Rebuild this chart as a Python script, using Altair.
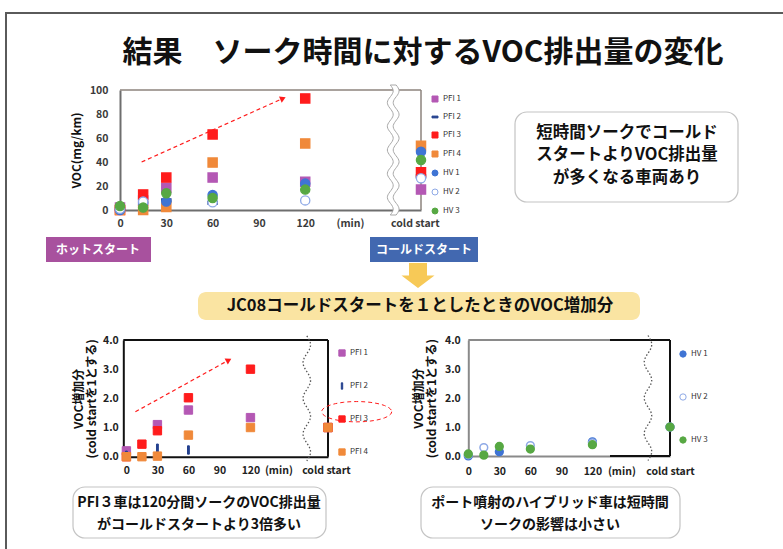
import math
import altair as alt
import pandas as pd

W, H = 783, 549
JP = "Noto Sans CJK JP"

# ---------------- data ----------------
soak_labels = ["0", "15", "30", "60", "120", "cold start"]

top_series = ["PFI 1", "PFI 2", "PFI 3", "PFI 4", "HV 1", "HV 2", "HV 3"]
top_pfi1 = [2.0, 8.0, 18.6, 27.0, 23.6, 17.0]
top_pfi2 = [1.0, None, 8.0, 6.0, None, 28.0]
top_pfi3 = [0.0, 13.0, 27.0, 63.0, 93.0, 31.4]
top_pfi4 = [0.0, 0.0, 2.5, 39.5, 55.5, 53.6]
top_hv1 = [0.0, 6.0, 7.0, 12.5, 22.0, 48.6]
top_hv2 = [1.0, 7.0, None, 6.5, 8.0, 26.4]
top_hv3 = [3.3, 2.0, 14.0, 10.0, 17.0, 41.7]

pfi_series = ["PFI 1", "PFI 2", "PFI 3", "PFI 4"]
rel_pfi1 = [0.2, None, 1.1, 1.6, 1.34, 1.0]
rel_pfi2 = [0.05, None, 0.29, 0.23, None, 1.0]
rel_pfi3 = [0.0, 0.43, 0.89, 2.02, 3.0, 1.0]
rel_pfi4 = [0.0, 0.0, 0.02, 0.74, 1.0, 1.0]

hv_series = ["HV 1", "HV 2", "HV 3"]
rel_hv1 = [0.0, None, 0.15, None, 0.49, 1.0]
rel_hv2 = [0.04, 0.29, None, 0.36, 0.45, 1.0]
rel_hv3 = [0.07, 0.03, 0.33, 0.24, 0.39, 1.0]

# ---------------- styles ----------------
PURPLE, NAVY, RED, ORANGE = "#b458b4", "#23408e", "#ff1c1c", "#f0893a"
BLUE, LBLUE, GREEN = "#3f74d4", "#8ea9e6", "#57a843"
DASH_H = "M-1,-0.3L1,-0.3L1,0.3L-1,0.3Z"
DASH_V = "M-0.22,-1L0.22,-1L0.22,1L-0.22,1Z"

COLD_POS = 195.0  # the cold start column sits at the right edge of each panel


def soak_x(label):
    return COLD_POS if label == "cold start" else float(label)


def long_table(series, columns):
    rows = []
    for name, vals in zip(series, columns):
        for lab, v in zip(soak_labels, vals):
            if v is not None:
                rows.append({"series": name, "soak": lab, "x": soak_x(lab), "y": v})
    return pd.DataFrame(rows)


def wave_path(amp, periods, gap=0.0, n=90):
    pts = []
    for i in range(n + 1):
        t = -1 + 2 * i / n
        pts.append((amp * math.sin(math.pi * periods * (t + 1)), t))
    if gap == 0:
        return "M" + "L".join(f"{x:.3f},{y:.3f}" for x, y in pts)
    left = [(x - gap / 2, y) for x, y in pts]
    right = [(x + gap / 2, y) for x, y in reversed(pts)]
    return "M" + "L".join(f"{x:.3f},{y:.3f}" for x, y in left + right) + "Z"


def panel(df, series, fills, strokes, shapes, msize, mstroke,
          xdom, xr, ydom, yr, yvals, yfmt, ytitle, ytitle_size, ytitle_pad,
          xlab_pad, ylab_pad, axis_color, axis_width, label_color,
          min_at, cold_at, legend, frames, brk, arrow=None):
    xs = alt.Scale(domain=xdom, range=xr, nice=False, zero=False)
    ys = alt.Scale(domain=ydom, range=yr, nice=False, zero=False)
    xax = alt.Axis(
        orient="bottom", offset=yr[0] - H, values=[0, 30, 60, 90, 120, min_at, cold_at],
        labelExpr=f"datum.value == {min_at} ? '(min)' : datum.value == {cold_at} ? 'cold start' : datum.label",
        ticks=False, grid=False, domainColor=axis_color, domainWidth=axis_width,
        labelFont=JP, labelFontSize=10.5, labelFontWeight="bold", labelColor=label_color,
        labelPadding=xlab_pad, labelFlush=False, labelOverlap=False, title=None,
    )
    yax = alt.Axis(
        orient="left", offset=-xr[0], values=yvals, format=yfmt,
        ticks=False, grid=False, domainColor=axis_color, domainWidth=axis_width,
        labelFont=JP, labelFontSize=10.5, labelFontWeight="bold", labelColor=label_color,
        labelPadding=ylab_pad, labelFlush=False, labelOverlap=False,
        title=ytitle, titleFont=JP, titleFontSize=ytitle_size, titleFontWeight="bold",
        titleColor="#111111", titlePadding=ytitle_pad, titleLineHeight=ytitle_size + 1,
    )

    def X(f):
        return alt.X(f"{f}:Q", scale=xs, axis=xax)

    def Y(f):
        return alt.Y(f"{f}:Q", scale=ys, axis=yax)

    layers = []
    for color, width, segs in frames:
        seg_df = pd.DataFrame(segs, columns=["x", "y", "x2", "y2"])
        layers.append(
            alt.Chart(seg_df).mark_rule(color=color, strokeWidth=width).encode(
                x=X("x"), y=Y("y"), x2="x2:Q", y2="y2:Q"
            )
        )
    bx, by, bsize, bpath, bfill, bstroke, bdash = brk
    brk_df = pd.DataFrame({"x": [bx], "y": [by]})
    if bfill:
        bmark = alt.Chart(brk_df).mark_point(
            shape=bpath, size=bsize, filled=True, fill=bfill, stroke=bstroke,
            strokeWidth=1, opacity=1)
    else:
        bmark = alt.Chart(brk_df).mark_point(
            shape=bpath, size=bsize, filled=False, color=bstroke, stroke=bstroke,
            strokeWidth=1.3, strokeDash=bdash, opacity=1)
    layers.append(bmark.encode(x=X("x"), y=Y("y")))

    if arrow is not None:
        (ax0, ay0), (ax1, ay1) = arrow
        a_df = pd.DataFrame({"x": [ax0, ax1], "y": [ay0, ay1]})
        layers.append(
            alt.Chart(a_df).mark_line(color=RED, strokeDash=[4, 3], strokeWidth=1.2).encode(
                x=X("x"), y=Y("y")
            )
        )
        px0 = xr[0] + (ax0 - xdom[0]) / (xdom[1] - xdom[0]) * (xr[1] - xr[0])
        px1 = xr[0] + (ax1 - xdom[0]) / (xdom[1] - xdom[0]) * (xr[1] - xr[0])
        py0 = yr[0] + (ay0 - ydom[0]) / (ydom[1] - ydom[0]) * (yr[1] - yr[0])
        py1 = yr[0] + (ay1 - ydom[0]) / (ydom[1] - ydom[0]) * (yr[1] - yr[0])
        ang = math.degrees(math.atan2(py1 - py0, px1 - px0)) % 360
        h_df = pd.DataFrame({"x": [ax1], "y": [ay1]})
        layers.append(
            alt.Chart(h_df).mark_point(shape="triangle-right", filled=True, color=RED,
                                       size=45, angle=ang, opacity=1).encode(x=X("x"), y=Y("y"))
        )

    layers.append(
        alt.Chart(df).mark_point(filled=True, opacity=1, strokeWidth=mstroke, size=msize).encode(
            x=X("x"), y=Y("y"),
            fill=alt.Fill("series:N", scale=alt.Scale(domain=series, range=fills), legend=legend),
            stroke=alt.Stroke("series:N", scale=alt.Scale(domain=series, range=strokes), legend=legend),
            shape=alt.Shape("series:N", scale=alt.Scale(domain=series, range=shapes), legend=legend),
        )
    )
    return alt.layer(*layers)


def legend(x, y, row_pad, sym):
    return alt.Legend(orient="none", legendX=x, legendY=y, title=None, direction="vertical",
                      symbolSize=sym, symbolStrokeWidth=1, labelFont=JP, labelFontSize=8,
                      labelColor="#333333", rowPadding=row_pad, padding=0, labelOffset=4)


# ---------------- top panel: VOC (mg/km) ----------------
top_df = long_table(top_series, [top_pfi1, top_pfi2, top_pfi3, top_pfi4, top_hv1, top_hv2, top_hv3])
top = panel(
    top_df, top_series,
    [PURPLE, NAVY, RED, ORANGE, BLUE, "#ffffff", GREEN],
    [PURPLE, NAVY, RED, ORANGE, BLUE, LBLUE, GREEN],
    ["square", DASH_H, "square", "square", "circle", "circle", "circle"],
    85, 1.3,
    [0, COLD_POS], [120, 421], [0, 100], [210, 90],
    [0, 20, 40, 60, 80, 100], "d", "VOC(mg/km)", 12, 6,
    8, 12, "#6e6e6e", 2, "#3a3a3a", 149, 191,
    legend(431, 95, 9, 36),
    [("#8c837d", 1.5, [(0, 100, COLD_POS, 100), (COLD_POS, 0, COLD_POS, 100)])],
    (177, 50, 16900, wave_path(0.045, 5.5, gap=0.09), "#ffffff", "#a8a8a8", None),
    arrow=((14, 40), (105.6, 93)),
)

# ---------------- bottom-left panel: PFI relative ----------------
bl_df = long_table(pfi_series, [rel_pfi1, rel_pfi2, rel_pfi3, rel_pfi4])
bl = panel(
    bl_df, pfi_series,
    [PURPLE, NAVY, RED, ORANGE],
    [PURPLE, NAVY, RED, ORANGE],
    ["square", DASH_V, "square", "square"],
    70, 1,
    [-3, COLD_POS], [123.3, 328], [0, 4], [456.7, 340],
    [0, 1, 2, 3, 4], ".1f", ["VOC増加分", "(cold startを1とする)"], 12, 4,
    9, 5, "#111111", 2, "#222222", 147, 193,
    legend(338, 349, 21, 40),
    [("#111111", 2, [(-3, 4, COLD_POS, 4), (COLD_POS, 0, COLD_POS, 4)])],
    (174.5, 2.0, 15625, wave_path(0.06, 3.5), None, "#555555", [1.5, 2]),
    arrow=((8.7, 1.54), (99, 3.31)),
)

# ---------------- bottom-right panel: hybrid relative ----------------
br_df = long_table(hv_series, [rel_hv1, rel_hv2, rel_hv3])
br = panel(
    br_df, hv_series,
    [BLUE, "#ffffff", GREEN],
    [BLUE, LBLUE, GREEN],
    ["circle", "circle", "circle"],
    60, 1.5,
    [0, COLD_POS], [468.3, 670], [0, 4], [456, 340],
    [0, 1, 2, 3, 4], ".1f", ["VOC増加分", "(cold startを1とする)"], 12, 6,
    10, 8, "#8a8a8a", 2, "#222222", 148, 195,
    legend(679, 350, 31, 40),
    [("#8a8a8a", 2, [(0, 4, 137, 4)]),
     ("#111111", 2, [(137, 4, COLD_POS, 4), (COLD_POS, 0, COLD_POS, 4), (137, 0, COLD_POS, 0)])],
    (173.7, 2.0, 15625, wave_path(0.06, 3.5), None, "#555555", [1.5, 2]),
)

# ---------------- slide decoration (pixel layout) ----------------
def px(f):
    return alt.X(f"{f}:Q", scale=None, axis=None)


def py(f):
    return alt.Y(f"{f}:Q", scale=None, axis=None)


border = alt.Chart(pd.DataFrame({"x": [6], "y": [13], "x2": [820], "y2": [600]})).mark_rect(
    fill="transparent", stroke="#5a5a5a", strokeWidth=2
).encode(x=px("x"), y=py("y"), x2="x2:Q", y2="y2:Q")

boxes = alt.Chart(pd.DataFrame({
    "x": [515, 73, 421], "y": [112, 487, 487], "x2": [738, 326, 680], "y2": [202, 538, 538],
})).mark_rect(fill="#ffffff", stroke="#c4c4c4", strokeWidth=1.2, cornerRadius=12).encode(
    x=px("x"), y=py("y"), x2="x2:Q", y2="y2:Q")

banner = alt.Chart(pd.DataFrame({"x": [198], "y": [292], "x2": [640], "y2": [320]})).mark_rect(
    fill="#fae4a2", cornerRadius=8).encode(x=px("x"), y=py("y"), x2="x2:Q", y2="y2:Q")

tags = alt.Chart(pd.DataFrame({
    "x": [46, 370], "y": [237, 237], "x2": [151, 478], "y2": [262, 262], "c": ["#a8519e", "#4268b0"],
})).mark_rect().encode(x=px("x"), y=py("y"), x2="x2:Q", y2="y2:Q",
                       color=alt.Color("c:N", scale=None))

ARROW_PATH = "M-0.72,-1L0.72,-1L0.72,0L1.32,0L0,1L-1.32,0L-0.72,0Z"
down_arrow = alt.Chart(pd.DataFrame({"x": [418], "y": [275.5]})).mark_point(
    shape=ARROW_PATH, size=625, filled=True, fill="#f7c957", strokeWidth=0, opacity=1
).encode(x=px("x"), y=py("y"))

ell = "M" + "L".join(
    f"{math.cos(2 * math.pi * k / 48):.3f},{0.29 * math.sin(2 * math.pi * k / 48):.3f}" for k in range(48)
) + "Z"
ellipse = alt.Chart(pd.DataFrame({"x": [356.7], "y": [411.7]})).mark_point(
    shape=ell, size=4900, filled=False, color=RED, stroke=RED, strokeDash=[4, 3],
    strokeWidth=1, opacity=1
).encode(x=px("x"), y=py("y"))


def text_layer(rows, line_height):
    df = pd.DataFrame(rows, columns=["t", "x", "y", "s", "c"])
    return alt.Chart(df).mark_text(
        font=JP, fontWeight="bold", align="center", baseline="middle",
        lineBreak="\n", lineHeight=line_height,
    ).encode(x=px("x"), y=py("y"), text="t:N", size=alt.Size("s:Q", scale=None),
             color=alt.Color("c:N", scale=None))


texts_single = text_layer([
    ("結果　ソーク時間に対するVOC排出量の変化", 423, 53, 30, "#111111"),
    ("ホットスタート", 98, 250, 12, "#ffffff"),
    ("コールドスタート", 424, 250, 12, "#ffffff"),
    ("JC08コールドスタートを１としたときのVOC増加分", 420, 306, 16.5, "#111111"),
], 20)
texts_box = text_layer([
    ("短時間ソークでコールド\nスタートよりVOC排出量\nが多くなる車両あり", 627, 132.5, 16.5, "#111111"),
], 22.5)
texts_bottom = text_layer([
    ("PFI３車は120分間ソークのVOC排出量\nがコールドスタートより3倍多い", 199, 503, 14, "#111111"),
    ("ポート噴射のハイブリッド車は短時間\nソークの影響は小さい", 550, 503, 14, "#111111"),
], 21.5)

chart = alt.layer(
    border, boxes, banner, tags, down_arrow, top, bl, br, ellipse,
    texts_single, texts_box, texts_bottom
).resolve_scale(
    x="independent", y="independent", fill="independent", stroke="independent", shape="independent"
).resolve_axis(
    x="independent", y="independent"
).resolve_legend(
    fill="independent", stroke="independent", shape="independent"
).properties(
    width=W, height=H, autosize=alt.AutoSizeParams(type="none"), padding=0, background="white"
).configure_view(strokeWidth=0)

chart.save("out.html", embed_options={"renderer": "svg", "actions": False})
